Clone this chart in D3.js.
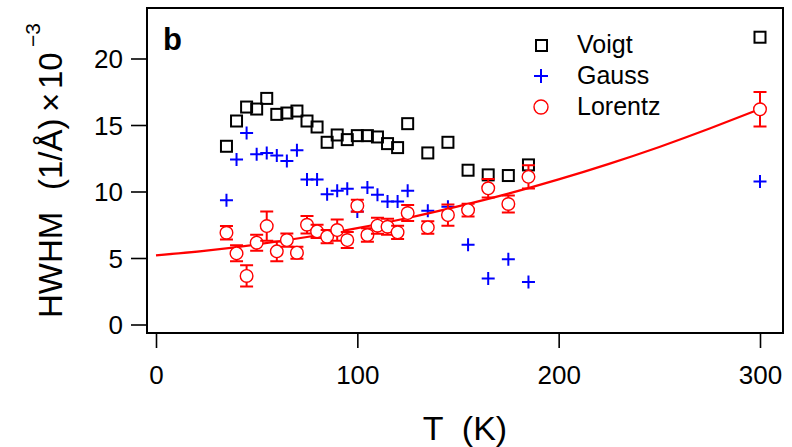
<!DOCTYPE html>
<html>
<head>
<meta charset="utf-8">
<script src="https://cdn.jsdelivr.net/npm/d3@7"></script>
<style>
  body { margin: 0; background: #fff; }
  svg text { font-family: "Liberation Sans", Arial, sans-serif; white-space: pre; }
</style>
</head>
<body>
<svg id="mainSvg" width="792" height="447"></svg>
<script>
// temperatures (K)
let temps = [35, 40, 45, 50, 55, 60, 65, 70, 75, 80, 85, 90, 95, 100, 105, 110, 115, 120, 125,
    135, 145, 155, 165, 175, 185, 300]
// HWHM values, x10^-3 1/Å
let voigt = [13.4, 15.3, 16.35, 16.2, 17.0, 15.8, 15.9, 16.05, 15.3, 14.85, 13.7, 14.25, 13.9, 14.2, 14.2, 14.1, 13.6, 13.3, 15.1,
    12.9, 13.7, 11.6, 11.25, 11.2, 12.0, 21.6]
let gauss = [9.35, 12.4, 14.4, 12.8, 12.9, 12.7, 12.3, 13.1, 10.9, 10.9, 9.8, 10.05, 10.2, 8.5, 10.3, 9.75, 9.25, 9.25, 10.05,
    8.55, 8.85, 6.0, 3.45, 4.9, 3.2, 10.75]
let lorentz = [6.9, 5.35, 3.65, 6.15, 7.4, 5.5, 6.35, 5.4, 7.5, 7.0, 6.6, 7.1, 6.35, 8.93, 6.73, 7.43, 7.35, 6.93, 8.38,
    7.3, 8.23, 8.6, 10.24, 9.06, 11.1, 16.18]
let lorentzErr = [0.5, 0.6, 0.8, 0.6, 1.1, 0.75, 0.5, 0.45, 0.65, 0.5, 0.5, 0.8, 0.6, 0.45, 0.5, 0.6, 0.6, 0.5, 0.6,
    0.47, 0.8, 0.48, 0.7, 0.63, 0.87, 1.3]
// fit curve
let fitT = [0, 25, 50, 75, 100, 125, 150, 175, 200, 225, 250, 275, 300]
let fitY = [5.2, 5.56, 6.02, 6.58, 7.25, 8.01, 8.88, 9.84, 10.91, 12.08, 13.35, 14.73, 16.2]

let xTicks = [0, 100, 200, 300]
let yTicks = [0, 5, 10, 15, 20]

let svg = d3.select('#mainSvg')

let frameL = 147, frameR = 783, frameT = 8, frameB = 333

let x = d3.scaleLinear().domain([0, 300]).range([156, 760])
let y = d3.scaleLinear().domain([0, 20]).range([324.5, 58.5])

// axes
let xAxis = d3.axisBottom(x).tickValues(xTicks).tickSize(15).tickPadding(18).tickFormat(d3.format('d'))
let yAxis = d3.axisLeft(y).tickValues(yTicks).tickSize(16).tickPadding(8).tickFormat(d3.format('d'))

let gx = svg.append('g').attr('transform', 'translate(0,' + frameB + ')').call(xAxis)
let gy = svg.append('g').attr('transform', 'translate(' + frameL + ',0)').call(yAxis)

for (let g of [gx, gy]) {
    g.select('.domain').remove()
    g.selectAll('line').attr('stroke', '#000').attr('stroke-width', 1.6)
    g.selectAll('text').attr('fill', '#000').attr('font-size', 26)
        .style('font-family', '"Liberation Sans", Arial, sans-serif')
}
gy.selectAll('text').attr('dy', '0.36em')

// frame
svg.append('rect')
    .attr('x', frameL).attr('y', frameT)
    .attr('width', frameR - frameL).attr('height', frameB - frameT)
    .attr('fill', 'none').attr('stroke', '#000').attr('stroke-width', 2)

// axis titles
svg.append('text')
    .attr('x', (frameL + frameR) / 2).attr('y', 440)
    .attr('text-anchor', 'middle').attr('font-size', 34)
    .text('T  (K)')

let ylab = svg.append('text')
    .attr('transform', 'translate(62,318) rotate(-90)')
    .attr('font-size', 33)
ylab.append('tspan').attr('x', 0).text('HWHM')
ylab.append('tspan').attr('x', 128).text('(1/Å)')
ylab.append('tspan').attr('x', 206).text('×')
ylab.append('tspan').attr('x', 229).text('10')
ylab.append('tspan').attr('x', 271).attr('dy', -22).attr('font-size', 21).text('−3')

svg.append('text')
    .attr('x', 163).attr('y', 50)
    .attr('font-size', 31).attr('font-weight', 'bold')
    .text('b')

let rows = temps.map((t, i) => ({ t: t, v: voigt[i], g: gauss[i], l: lorentz[i], e: lorentzErr[i] }))

// Voigt squares
svg.append('g').selectAll('rect')
    .data(rows).enter().append('rect')
    .attr('x', d => x(d.t) - 5.5).attr('y', d => y(d.v) - 5.5)
    .attr('width', 11).attr('height', 11)
    .attr('fill', 'none').attr('stroke', '#000').attr('stroke-width', 2)

// Gauss crosses
let plus = function (cx, cy, s) {
    return 'M' + (cx - s) + ' ' + cy + 'H' + (cx + s) + 'M' + cx + ' ' + (cy - s) + 'V' + (cy + s)
}
svg.append('g').selectAll('path')
    .data(rows).enter().append('path')
    .attr('d', d => plus(x(d.t), y(d.g), 6.5))
    .attr('stroke', '#0000ff').attr('stroke-width', 2).attr('fill', 'none')

// fit line
let line = d3.line().x(d => x(d[0])).y(d => y(d[1])).curve(d3.curveNatural)
svg.append('path')
    .attr('d', line(fitT.map((t, i) => [t, fitY[i]])))
    .attr('fill', 'none').attr('stroke', '#ff0000').attr('stroke-width', 2.2)

// Lorentz with error bars
let eb = svg.append('g').selectAll('g')
    .data(rows).enter().append('g')
eb.append('path')
    .attr('d', d => {
        let cx = x(d.t), y1 = y(d.l + d.e), y2 = y(d.l - d.e)
        return 'M' + cx + ' ' + y1 + 'V' + y2 +
            'M' + (cx - 6.5) + ' ' + y1 + 'H' + (cx + 6.5) +
            'M' + (cx - 6.5) + ' ' + y2 + 'H' + (cx + 6.5)
    })
    .attr('stroke', '#ff0000').attr('stroke-width', 2).attr('fill', 'none')
eb.append('circle')
    .attr('cx', d => x(d.t)).attr('cy', d => y(d.l)).attr('r', 6.3)
    .attr('fill', '#fff').attr('stroke', '#ff0000').attr('stroke-width', 1.4)

// legend
let lg = svg.append('g')
lg.append('rect').attr('x', 536).attr('y', 40).attr('width', 11).attr('height', 11)
    .attr('fill', 'none').attr('stroke', '#000').attr('stroke-width', 2)
lg.append('path').attr('d', plus(541, 76, 7))
    .attr('stroke', '#0000ff').attr('stroke-width', 2)
lg.append('circle').attr('cx', 541).attr('cy', 107).attr('r', 7)
    .attr('fill', 'none').attr('stroke', '#ff0000').attr('stroke-width', 1.4)
let labels = ['Voigt', 'Gauss', 'Lorentz']
lg.selectAll('text').data(labels).enter().append('text')
    .attr('x', 577).attr('y', (d, i) => 53 + i * 31)
    .attr('font-size', 25)
    .text(d => d)
</script>
</body>
</html>
